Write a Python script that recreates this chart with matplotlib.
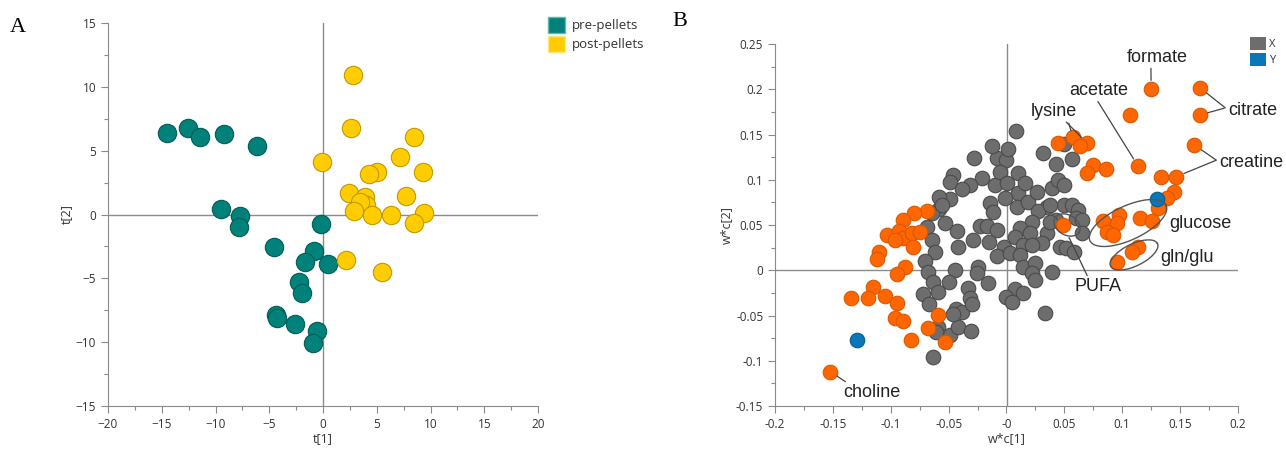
import numpy as np
import matplotlib.pyplot as plt
from matplotlib.patches import Patch

plt.rcParams['font.family'] = ['Open Sans', 'DejaVu Sans']

# ---- panel A: scores t[1] / t[2]
pre_t1 = [-14.5, -12.6, -11.4, -9.2, -6.1, -9.5, -7.7, -7.8, -0.2, -4.55, -0.8,
          -1.7, 0.5, -2.2, -2.0, -4.4, -4.3, -2.6, -0.55, -0.9]
pre_t2 = [6.4, 6.8, 6.1, 6.3, 5.4, 0.4, -0.15, -0.95, -0.75, -2.55, -2.85,
          -3.7, -3.9, -5.25, -6.15, -7.9, -8.1, -8.6, -9.1, -10.1]
post_t1 = [2.8, 2.65, 8.5, -0.1, 7.2, 5.05, 4.3, 9.3, 2.4, 3.9, 7.7, 4.0, 3.4,
           2.85, 4.6, 6.35, 9.4, 8.5, 2.1, 5.5]
post_t2 = [10.9, 6.75, 6.1, 4.15, 4.5, 3.3, 3.2, 3.3, 1.7, 1.4, 1.45, 0.75, 1.0,
           0.3, 0.0, 0.0, 0.15, -0.65, -3.6, -4.5]

# ---- panel B: loadings w*c[1] / w*c[2]
x_w1 = [-0.0281, -0.046, -0.049, -0.0214, -0.0315, -0.0387, -0.0488, -0.058, -0.058, -0.0684,
        -0.0531, -0.0425, -0.0292, -0.0416, -0.0646, -0.0618, -0.0229, -0.0166, -0.0085, -0.0149,
        -0.0022, -0.0085, -0.0099, -0.0143, -0.0114, -0.0085, -0.0004, -0.0056, 0.0102, 0.0002,
        0.0102, -0.0013, 0.0088, 0.0188, 0.0261, 0.016, 0.0318, 0.0347, 0.0275, 0.0218,
        0.0117, 0.0203, 0.0073, 0.0145, 0.003, 0.0347, 0.0304,
        -0.0704, -0.0676, -0.0445, -0.0632, -0.0494, -0.0589, -0.0719, -0.0667, -0.033,
        -0.0315, -0.0436, -0.0387, -0.0243, -0.0257, -0.0157, 0.0218, 0.0117, 0.0145, 0.0246,
        0.0218, 0.0246, 0.0073, 0.0145, -0.0004, 0.0045, 0.0333, -0.0589, -0.0488, -0.0416,
        -0.0309, -0.0606, -0.030, -0.046, -0.064, -0.0553,
        0.008, -0.0126, 0.001, 0.0496, 0.0567, 0.0425, 0.039, 0.0443, 0.0496, 0.0496,
        0.0567, 0.062, 0.0602, 0.0656, 0.0656, 0.0425, 0.046, 0.0514, 0.0585, 0.039,
        -0.0635, 0.0372, 0.0372]
x_w2 = [0.1237, 0.1052, 0.098, 0.1016, 0.0942, 0.0895, 0.0784, 0.0813, 0.0673, 0.0481,
        0.0525, 0.0434, 0.0334, 0.0253, 0.0334, 0.0205, 0.0489, 0.0489, 0.0445, 0.0315,
        0.026, 0.0157, 0.0942, 0.074, 0.0647, 0.1237, 0.1218, 0.1089, 0.1078, 0.0961,
        0.085, 0.0795, 0.0702, 0.0757, 0.0868, 0.0961, 0.1292, 0.0702, 0.0658, 0.0536,
        0.0464, 0.0408, 0.0371, 0.0279, 0.0187, 0.0408, 0.0298,
        0.0106, -0.0016, 0.0003, -0.0126, -0.0126, -0.0237, -0.0263, -0.0373, -0.0199,
        -0.031, -0.0432, -0.0458, 0.004, -0.0034, -0.0144, 0.0279, 0.0169, 0.004, 0.0077,
        -0.0034, -0.0108, -0.0211, -0.0255, -0.0299, -0.0347, -0.0469, -0.0624, -0.0716, -0.063,
        -0.0668, -0.0679, -0.037, -0.048, 0.0629, 0.0721,
        0.154, 0.137, 0.134, 0.1395, 0.123, 0.117, 0.0905, 0.0997, 0.094, 0.0721,
        0.0721, 0.0666, 0.0574, 0.0555, 0.041, 0.0555, 0.026, 0.0242, 0.0205, -0.0015,
        -0.0962, 0.0721, 0.0537]

sig_w1 = [0.125, 0.167, 0.167, 0.1065, 0.1624, 0.1136, 0.1336, 0.1467, 0.145, 0.1385,
          0.1307, 0.1154, 0.126, 0.0976, 0.0958, 0.0834, 0.087, 0.0923, 0.1136, 0.1083,
          0.0958, 0.0489, 0.0443, 0.0574, 0.0692, 0.0639, 0.0745, 0.0692, 0.0859,
          -0.0688, -0.0802, -0.089, -0.1033, -0.0933, -0.089, -0.0819, -0.0748, -0.0812,
          -0.0962, -0.1104, -0.1122, -0.0873, -0.0944, -0.1157, -0.1346, -0.1193, -0.1051,
          -0.0944, -0.0962, -0.089, -0.0588, -0.0677, -0.0827, -0.0535, -0.1524]
sig_w2 = [0.2006, 0.2018, 0.1716, 0.1716, 0.1384, 0.1152, 0.1027, 0.1034, 0.0861, 0.0795,
          0.0684, 0.0574, 0.0548, 0.0611, 0.0526, 0.0548, 0.0427, 0.039, 0.0253, 0.0206,
          0.0095, 0.050, 0.141, 0.1469, 0.141, 0.1373, 0.1163, 0.1071, 0.1119,
          0.0658, 0.0629, 0.0555, 0.0389, 0.0434, 0.0353, 0.0408, 0.0427, 0.0261,
          0.0334, 0.0205, 0.0121, 0.004, -0.0041, -0.0181, -0.031, -0.031, -0.0284,
          -0.0365, -0.0531, -0.0557, -0.0494, -0.0642, -0.077, -0.0789, -0.112]

y_w1 = [0.1296, -0.1289]
y_w2 = [0.0784, -0.077]

TEAL, YELLOW = '#00827a', '#ffcc00'
ORANGE, GRAY, BLUE = '#ff6600', '#6d6d6d', '#0a78b8'
AXC = '#8a8a8a'
TXT = '#333333'

W, H = 1286, 450
fig = plt.figure(figsize=(W / 100, H / 100), dpi=100)
axA = fig.add_axes([108 / W, 1 - 406 / H, 430 / W, 383 / H])
axB = fig.add_axes([775 / W, 1 - 406 / H, 463 / W, 362 / H])


def style(ax):
    for s in ['top', 'right']:
        ax.spines[s].set_visible(False)
    for s in ['left', 'bottom']:
        ax.spines[s].set_color(AXC)
    ax.tick_params(which='major', direction='out', length=5, color=AXC,
                   labelsize=8.5, labelcolor=TXT, width=0.8)
    ax.tick_params(which='minor', direction='out', length=3, color=AXC, width=0.8)
    ax.axhline(0, color=AXC, lw=1, zorder=0)
    ax.axvline(0, color=AXC, lw=1, zorder=0)


# panel A
axA.scatter(pre_t1, pre_t2, s=175, c=TEAL, edgecolors='#005c56', linewidths=0.8, zorder=3)
axA.scatter(post_t1, post_t2, s=175, c=YELLOW, edgecolors='#c09a00', linewidths=0.8, zorder=3)
axA.set_xlim(-20, 20)
axA.set_ylim(-15, 15)
axA.set_xticks(np.arange(-20, 21, 5))
axA.set_yticks(np.arange(-15, 16, 5))
axA.set_xticks(np.arange(-17.5, 20, 5), minor=True)
axA.set_yticks(np.arange(-12.5, 15, 5), minor=True)
style(axA)
axA.set_xlabel('t[1]', fontsize=9, color=TXT, labelpad=1)
axA.set_ylabel('t[2]', fontsize=9, color=TXT, labelpad=2)

legA = fig.legend(handles=[Patch(facecolor=TEAL, edgecolor='#5fb8b2', label='pre-pellets'),
                           Patch(facecolor=YELLOW, edgecolor='#ffe680', label='post-pellets')],
                  loc='upper left', bbox_to_anchor=(548 / W, 1 - 17 / H), frameon=False,
                  fontsize=9.5, handlelength=1.3, handleheight=1.5, labelspacing=0.2,
                  handletextpad=0.5, borderpad=0, borderaxespad=0)
for t in legA.get_texts():
    t.set_color(TXT)

# panel B
axB.scatter(x_w1, x_w2, s=110, c=GRAY, edgecolors='#4a4a4a', linewidths=0.8, zorder=3)
axB.scatter(sig_w1, sig_w2, s=110, c=ORANGE, edgecolors='#d95700', linewidths=0.8, zorder=4)
axB.scatter(y_w1, y_w2, s=110, c=BLUE, edgecolors='#075d90', linewidths=0.8, zorder=5)
axB.set_xlim(-0.2, 0.2)
axB.set_ylim(-0.15, 0.25)
axB.set_xticks(np.arange(-0.2, 0.201, 0.05))
axB.set_yticks(np.arange(-0.15, 0.251, 0.05))
axB.set_xticks(np.arange(-0.175, 0.2, 0.05), minor=True)
axB.set_yticks(np.arange(-0.125, 0.25, 0.05), minor=True)
axB.xaxis.set_major_formatter(plt.FuncFormatter(lambda v, p: f'{round(v, 3):g}'))
axB.yaxis.set_major_formatter(plt.FuncFormatter(lambda v, p: f'{round(v, 3):g}'))
style(axB)
axB.set_xlabel('w*c[1]', fontsize=9, color=TXT, labelpad=1)
axB.set_ylabel('w*c[2]', fontsize=9, color=TXT, labelpad=2)

legB = fig.legend(handles=[Patch(facecolor=GRAY, label='X'), Patch(facecolor=BLUE, label='Y')],
                  loc='upper left', bbox_to_anchor=(1250 / W, 1 - 37 / H), frameon=False,
                  fontsize=8, handlelength=1.4, handleheight=1.4, labelspacing=0.25,
                  handletextpad=0.3, borderpad=0, borderaxespad=0)
for t in legB.get_texts():
    t.set_color(TXT)

# labels for loadings
LAB = dict(fontsize=13, color='#222222', family=['Liberation Sans', 'DejaVu Sans'])
LINE = dict(arrowstyle='-', color='#444444', lw=0.9, shrinkA=0, shrinkB=6)


def label(txt, point, pos, ha='center', va='center', relpos=(0.5, 0.5), shrinkB=6):
    ap = dict(LINE, relpos=relpos, shrinkB=shrinkB)
    axB.annotate(txt, xy=point, xytext=pos, ha=ha, va=va, arrowprops=ap, zorder=6, **LAB)


label('formate', (sig_w1[0], sig_w2[0]), (0.130, 0.2356), relpos=(0.4, 0))
label('citrate', (sig_w1[1], sig_w2[1]), (0.1914, 0.177), ha='left', relpos=(0, 0.5))
axB.annotate('', xy=(sig_w1[2], sig_w2[2]), xytext=(0.188, 0.179),
             arrowprops=dict(LINE), zorder=6)
label('acetate', (sig_w1[5], sig_w2[5]), (0.080, 0.199), relpos=(0.45, 0))
label('creatine', (sig_w1[4], sig_w2[4]), (0.1836, 0.1196), ha='left', relpos=(0, 0.5))
axB.annotate('', xy=(sig_w1[7], sig_w2[7]), xytext=(0.181, 0.1215),
             arrowprops=dict(LINE), zorder=6)
label('lysine', (sig_w1[23], sig_w2[23]), (0.0407, 0.1749), relpos=(0.81, 0), shrinkB=5)
axB.annotate('', xy=(sig_w1[24], sig_w2[24]), xytext=(0.0516, 0.1638),
             arrowprops=dict(LINE, shrinkB=5), zorder=6)
label('PUFA', (sig_w1[21], sig_w2[21]), (0.079, -0.0185), relpos=(0.3, 1), shrinkB=10)
label('choline', (sig_w1[-1], sig_w2[-1]), (-0.1167, -0.1356), relpos=(0.12, 1), shrinkB=6)
axB.text(0.1404, 0.0522, 'glucose', ha='left', va='center', zorder=6, **LAB)
axB.text(0.1327, 0.0146, 'gln/glu', ha='left', va='center', zorder=6, **LAB)

# ellipses drawn in pixel units, converted to data units
px_x = 463 / 0.4
px_y = 362 / 0.4


def ring(cx, cy, a, b, ang):
    t = np.linspace(0, 2 * np.pi, 200)
    th = np.deg2rad(ang)
    dx = a * np.cos(t) * np.cos(th) - b * np.sin(t) * np.sin(th)
    dy = a * np.cos(t) * np.sin(th) + b * np.sin(t) * np.cos(th)
    axB.plot(cx + dx / px_x, cy + dy / px_y, color='#555555', lw=1, zorder=6)


ring(0.105, 0.0522, 42, 17, 25)
ring(0.1102, 0.0169, 26, 11, 26)
ring(0.0523, 0.050, 14, 10, -30)

fig.text(10 / W, 1 - 28 / H, 'A', fontsize=16, family='Liberation Serif', va='center')
fig.text(672 / W, 1 - 22 / H, 'B', fontsize=16, family='Liberation Serif', va='center')

fig.savefig('out.png', dpi=100)
